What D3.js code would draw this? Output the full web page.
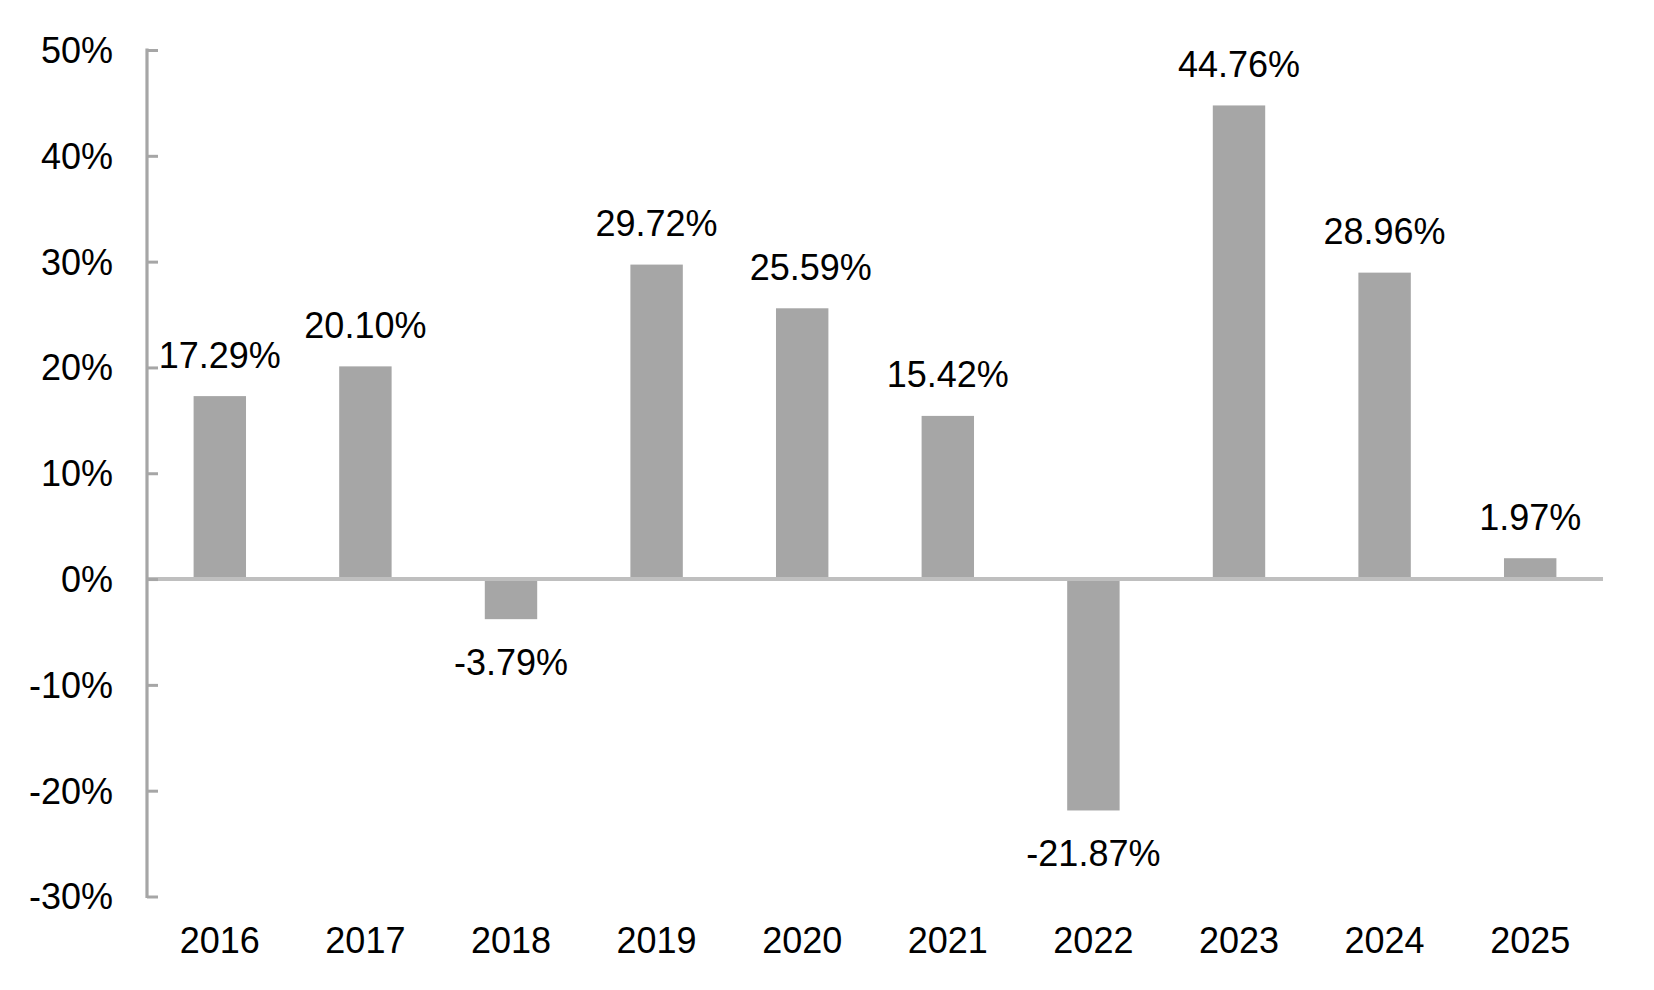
<!DOCTYPE html>
<html>
<head>
<meta charset="utf-8">
<script src="https://cdn.jsdelivr.net/npm/d3@7"></script>
<style>
  html, body { margin: 0; padding: 0; background: #fff; }
  svg { display: block; }
  text { font-family: "Liberation Sans", Arial, sans-serif; fill: #000; }
</style>
</head>
<body>
<svg id="chart" width="1654" height="990"></svg>
<script>
const years = ["2016","2017","2018","2019","2020","2021","2022","2023","2024","2025"];
const returns = [17.29, 20.10, -3.79, 29.72, 25.59, 15.42, -21.87, 44.76, 28.96, 1.97];
const yTicks = [-30, -20, -10, 0, 10, 20, 30, 40, 50];

(function () {
const svg = d3.select("#chart");
const mLeft = 147, mRight = 1603, mTop = 50, mBottom = 896.5;
const labelNudge = { "2020": 8.5 };

const x = d3.scaleBand().domain(years).range([mLeft, mRight]).padding(0);
const y = d3.scaleLinear().domain([-30, 50]).range([mBottom, mTop]);
const barFrac = 0.36;
const barW = x.bandwidth() * barFrac;
const data = years.map((yr, i) => ({yr, v: returns[i]}));

// bars
svg.append("g").selectAll("rect")
  .data(data)
  .join("rect")
  .attr("x", d => x(d.yr) + (x.bandwidth() - barW) / 2)
  .attr("y", d => y(Math.max(0, d.v)))
  .attr("width", barW)
  .attr("height", d => Math.abs(y(d.v) - y(0)))
  .attr("fill", "#A6A6A6");

// zero line
svg.append("line")
  .attr("x1", mLeft).attr("x2", mRight)
  .attr("y1", y(0)).attr("y2", y(0))
  .attr("stroke", "#BFBFBF").attr("stroke-width", 4);

// y axis
const yAxis = d3.axisRight(y).tickValues(yTicks).tickSize(11).tickFormat("");
const gy = svg.append("g").attr("transform", `translate(${mLeft},0)`).call(yAxis);
gy.select(".domain").remove();
gy.selectAll(".tick line").attr("stroke", "#A6A6A6").attr("stroke-width", 3);
svg.append("line")
  .attr("x1", mLeft).attr("x2", mLeft)
  .attr("y1", y(50) - 1.5).attr("y2", y(-30) + 1.5)
  .attr("stroke", "#A6A6A6").attr("stroke-width", 3.2);

// y tick labels
svg.append("g").selectAll("text")
  .data(yTicks)
  .join("text")
  .attr("x", 113)
  .attr("y", d => y(d))
  .attr("dy", "0.36em")
  .attr("text-anchor", "end")
  .attr("font-size", 36)
  .text(d => d + "%");

// x labels
svg.append("g").selectAll("text")
  .data(years)
  .join("text")
  .attr("x", d => x(d) + x.bandwidth() / 2)
  .attr("y", 953)
  .attr("text-anchor", "middle")
  .attr("font-size", 36)
  .text(d => d);

// value labels
svg.append("g").selectAll("text")
  .data(data)
  .join("text")
  .attr("x", d => x(d.yr) + x.bandwidth() / 2 + (labelNudge[d.yr] || 0))
  .attr("y", d => d.v >= 0 ? y(d.v) - 28.5 : y(d.v) + 56)
  .attr("text-anchor", "middle")
  .attr("font-size", 36)
  .text(d => d.v.toFixed(2) + "%");
})();
</script>
</body>
</html>
